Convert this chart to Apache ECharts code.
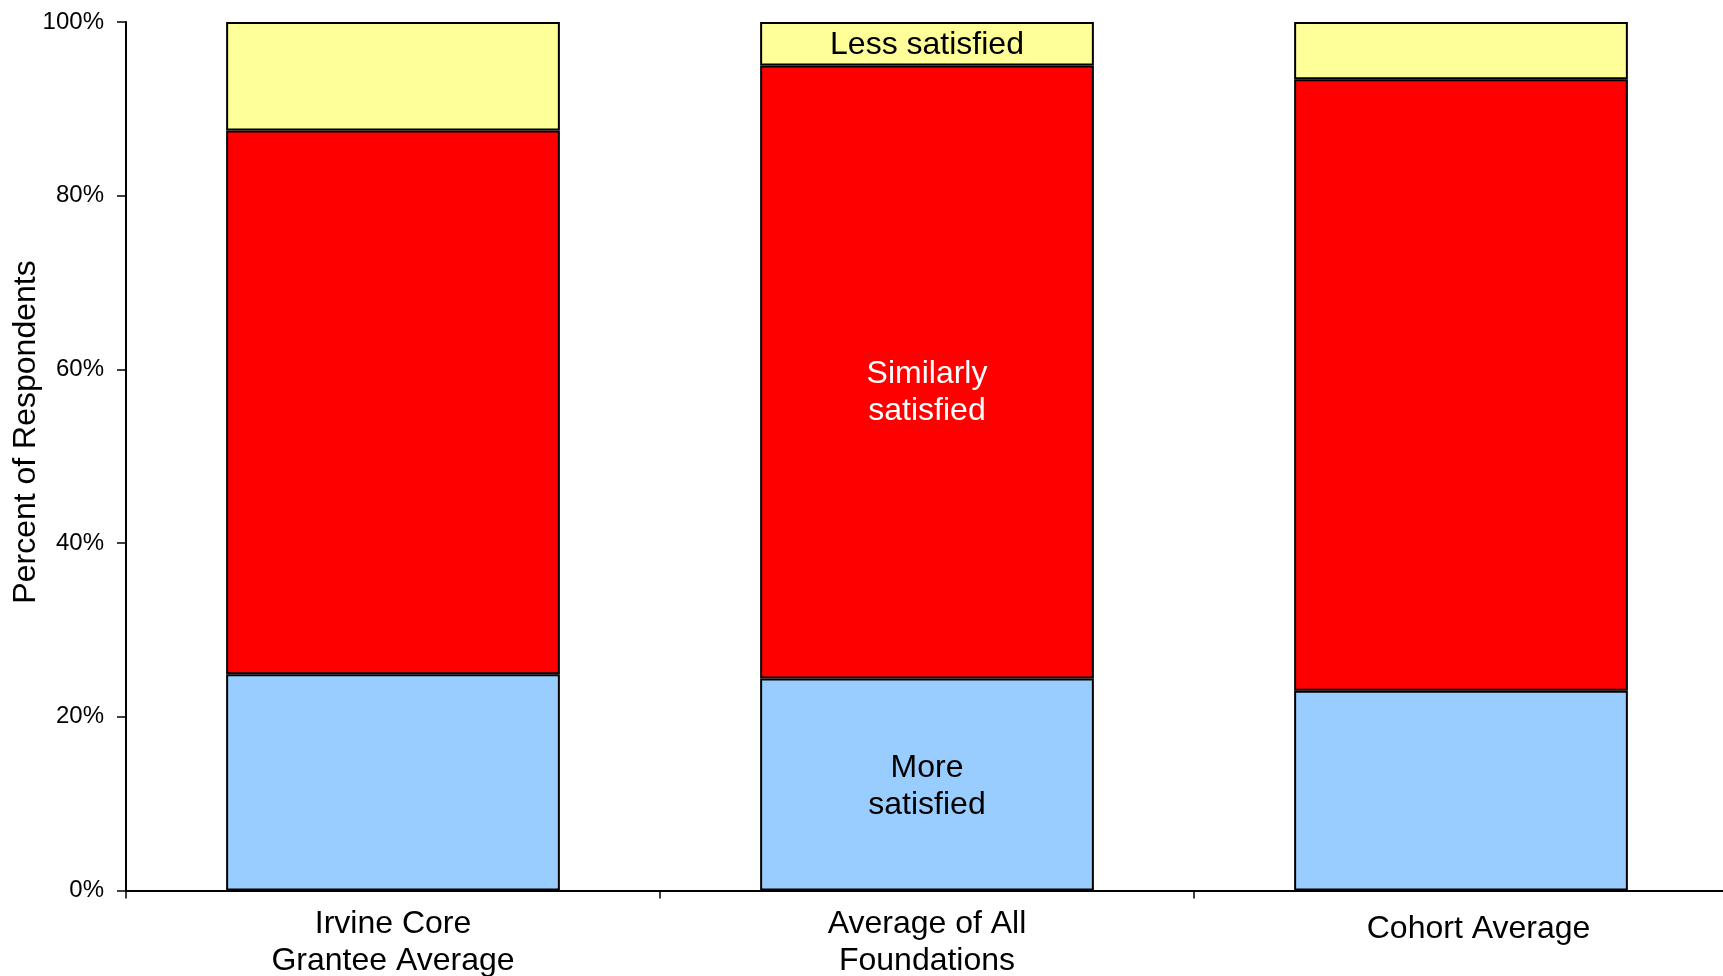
<!DOCTYPE html>
<html>
<head>
<meta charset="utf-8">
<title>Satisfaction Comparison</title>
<script src="https://cdn.jsdelivr.net/npm/echarts@6/dist/echarts.min.js"></script>
<style>
  html, body { margin: 0; padding: 0; background: #ffffff; }
  #chart { width: 1723px; height: 976px; }
</style>
</head>
<body>
<div id="chart"></div>
<script>
// Categories along the x axis
const categories = ['Irvine Core\nGrantee Average', 'Average of All\nFoundations', 'Cohort Average'];

// Share of respondents in each satisfaction group (percent)
const moreSatisfied = [24.9, 24.4, 23.0];
const similarlySatisfied = [62.6, 70.6, 70.4];
const lessSatisfied = [12.5, 5.0, 6.6];

// Series names and the in-bar labels shown on the middle bar
const seriesNames = ['More satisfied', 'Similarly satisfied', 'Less satisfied'];
const segmentLabels = ['More\nsatisfied', 'Similarly\nsatisfied', 'Less satisfied'];
const labelledIndex = 1;

// Y axis ticks
const yTicks = [0, 20, 40, 60, 80, 100];

const FONT = "'Liberation Sans', Arial, Helvetica, sans-serif";
const colors = ['#99CCFF', '#FF0000', '#FFFF99'];
const labelColors = ['#000000', '#ffffff', '#000000'];
const labelOffsets = [[0, 2], [0, 21], [0, 1]];

function buildSeries(values, i) {
  return {
    name: seriesNames[i],
    type: 'bar',
    stack: 'total',
    barWidth: '62.5%',
    itemStyle: { color: colors[i], borderColor: '#000000', borderWidth: 2 },
    label: {
      show: false,
      position: 'inside',
      formatter: segmentLabels[i],
      color: labelColors[i],
      fontFamily: FONT,
      fontSize: 32,
      lineHeight: 37,
      offset: labelOffsets[i]
    },
    data: values.map((v, j) => j === labelledIndex
      ? { value: v, label: { show: true } }
      : v),
    emphasis: { disabled: true }
  };
}

const chart = echarts.init(document.getElementById('chart'));
chart.setOption({
  animation: false,
  backgroundColor: '#ffffff',
  grid: { left: 126, right: -5, top: 22, bottom: 85.5, containLabel: false, outerBoundsMode: 'none' },
  xAxis: {
    type: 'category',
    data: categories,
    axisLine: { lineStyle: { color: '#000000', width: 2 } },
    axisTick: { show: true, inside: false, length: 8, lineStyle: { color: '#000000', width: 1.5 } },
    axisLabel: {
      color: '#000000',
      fontFamily: FONT,
      fontSize: 32,
      lineHeight: 37,
      margin: 15,
      interval: 0,
      formatter: v => v.indexOf('\n') < 0 ? '{single|' + v + '}' : v,
      rich: { single: { fontFamily: FONT, fontSize: 32, lineHeight: 37, padding: [10, 0, 0, 35], color: '#000000' } }
    },
    splitLine: { show: false }
  },
  yAxis: {
    type: 'value',
    min: yTicks[0],
    max: yTicks[yTicks.length - 1],
    interval: yTicks[1] - yTicks[0],
    axisLine: { show: true, lineStyle: { color: '#000000', width: 2 } },
    axisTick: { show: true, inside: false, length: 9, lineStyle: { color: '#000000', width: 1.5 } },
    axisLabel: { color: '#000000', fontFamily: FONT, fontSize: 24, margin: 22, formatter: '{value}%' },
    splitLine: { show: false }
  },
  graphic: [{
    type: 'text',
    x: 26,
    y: 432,
    rotation: Math.PI / 2,
    style: {
      text: 'Percent of Respondents',
      fill: '#000000',
      font: '32px ' + FONT,
      align: 'center',
      verticalAlign: 'middle'
    }
  }],
  series: [
    buildSeries(moreSatisfied, 0),
    buildSeries(similarlySatisfied, 1),
    buildSeries(lessSatisfied, 2)
  ]
});
</script>
</body>
</html>
